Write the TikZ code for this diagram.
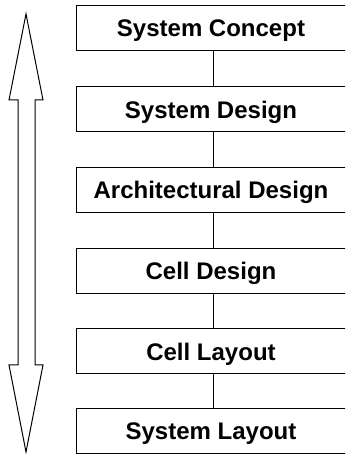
\documentclass[tikz,border=0pt]{standalone}
\usepackage{fontspec}
\setmainfont{Liberation Sans}
\begin{document}
\begin{tikzpicture}[x=1pt,y=1pt,
  stagebox/.style={draw=black, line width=1pt, fill=white, minimum width=274pt,
    minimum height=45pt, inner sep=0pt,
    label={[stagetext]center:#1}},
  stagetext/.style={xshift=-2pt, yshift=-2.5pt, inner sep=0pt,
    font=\fontsize{24}{28}\selectfont\bfseries},
  link/.style={draw=black, line width=1pt}]
  \useasboundingbox (0,0) rectangle (345,454);
  \clip (0,0) rectangle (345,454);
  % double-headed outline arrow on the left
  \draw[line width=1pt, line join=miter]
    (26,440) -- (43,354) -- (35,354) -- (35,89) -- (43,89) -- (26,2)
    -- (9,89) -- (18,89) -- (18,354) -- (9,354) -- cycle;
  % design stages
  \node[stagebox={System Concept}]       (concept) at (213,425.5) {};
  \node[stagebox={System Design}]        (sysdes)  at (213,344.5) {};
  \node[stagebox={Architectural Design}] (arch)    at (213,264)   {};
  \node[stagebox={Cell Design}]          (celldes) at (213,183)   {};
  \node[stagebox={Cell Layout}]          (celllay) at (213,102.5) {};
  \node[stagebox={System Layout}]        (syslay)  at (213,22.5)  {};
  % links between consecutive stages
  \draw[link] (concept.south) -- (sysdes.north);
  \draw[link] (sysdes.south) -- (arch.north);
  \draw[link] (arch.south) -- (celldes.north);
  \draw[link] (celldes.south) -- (celllay.north);
  \draw[link] (celllay.south) -- (syslay.north);
\end{tikzpicture}
\end{document}
